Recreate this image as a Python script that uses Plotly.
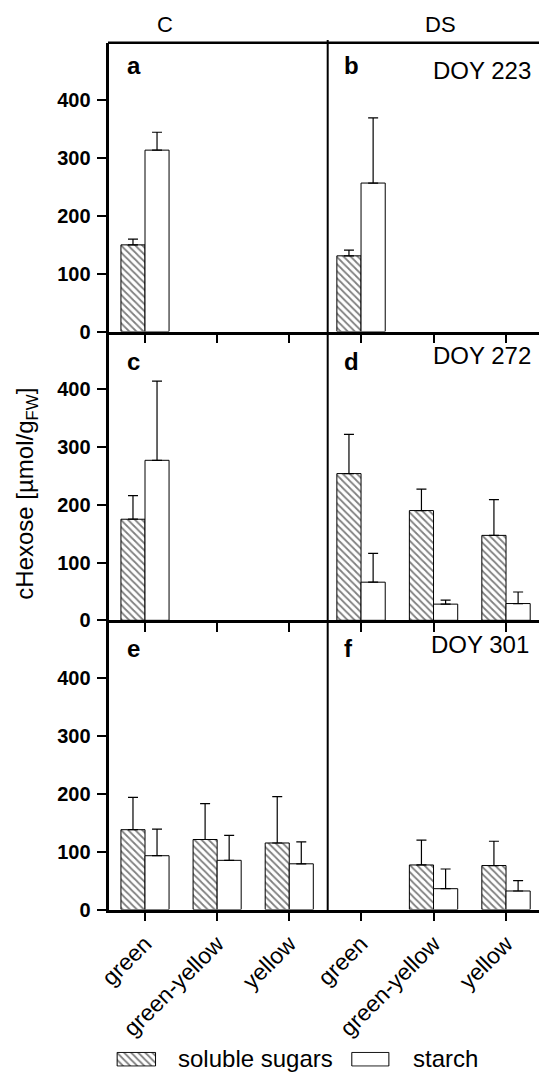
import plotly.graph_objects as go

# ---------------- data ----------------
categories = ["green", "green-yellow", "yellow"]
cat_pos = [0, 1, 2]
yticks = [0, 100, 200, 300, 400]

# panel a (C, DOY 223)
sugar_a = [150, None, None]
sugar_a_err = [10, None, None]
starch_a = [314, None, None]
starch_a_err = [31, None, None]
# panel b (DS, DOY 223)
sugar_b = [131, None, None]
sugar_b_err = [10, None, None]
starch_b = [257, None, None]
starch_b_err = [113, None, None]
# panel c (C, DOY 272)
sugar_c = [175, None, None]
sugar_c_err = [41, None, None]
starch_c = [277, None, None]
starch_c_err = [137, None, None]
# panel d (DS, DOY 272)
sugar_d = [254, 190, 147]
sugar_d_err = [68, 37, 62]
starch_d = [66, 28, 29]
starch_d_err = [50, 7, 20]
# panel e (C, DOY 301)
sugar_e = [138, 121, 115]
sugar_e_err = [56, 62, 80]
starch_e = [93, 85, 79]
starch_e_err = [46, 43, 38]
# panel f (DS, DOY 301)
sugar_f = [None, 77, 76]
sugar_f_err = [None, 43, 42]
starch_f = [None, 36, 32]
starch_f_err = [None, 34, 18]

panel_letters = ["a", "b", "c", "d", "e", "f"]
doy_labels = ["DOY 223", "DOY 272", "DOY 301"]
column_titles = ["C", "DS"]
series_names = ["soluble sugars", "starch"]

# ---------------- layout geometry (pixels) ----------------
W, H = 539, 1073
FONT = "Liberation Sans"


def px_x(p):
    return p / W


def px_y(p):
    return 1 - p / H


col_px = [(109.3, 327.7), (327.7, 539.0)]
row_px = [(42.7, 331.5), (331.5, 620.3), (620.3, 909.5)]
xranges = [[-0.495, 2.533], [-0.46, 2.455]]

panels = [
    (sugar_a, sugar_a_err, starch_a, starch_a_err),
    (sugar_b, sugar_b_err, starch_b, starch_b_err),
    (sugar_c, sugar_c_err, starch_c, starch_c_err),
    (sugar_d, sugar_d_err, starch_d, starch_d_err),
    (sugar_e, sugar_e_err, starch_e, starch_e_err),
    (sugar_f, sugar_f_err, starch_f, starch_f_err),
]

hatch_marker = dict(color="white",
                    pattern=dict(shape="\\", fgcolor="black", bgcolor="white", size=5, solidity=0.35),
                    line=dict(color="black", width=1))
plain_marker = dict(color="white", line=dict(color="black", width=1))


def err(arr):
    return dict(type="data", symmetric=False, array=arr,
                arrayminus=[0 if v is not None else None for v in arr],
                color="black", thickness=1.2, width=5)


fig = go.Figure()
layout = {}
for i, (s, se, st, ste) in enumerate(panels):
    r, c = divmod(i, 2)
    sfx = "" if i == 0 else str(i + 1)
    xa, ya = "x" + sfx, "y" + sfx
    fig.add_trace(go.Bar(x=cat_pos, y=s, error_y=err(se), marker=hatch_marker,
                         xaxis=xa, yaxis=ya, showlegend=False, name=series_names[0]))
    fig.add_trace(go.Bar(x=cat_pos, y=st, error_y=err(ste), marker=plain_marker,
                         xaxis=xa, yaxis=ya, showlegend=False, name=series_names[1]))
    x0, x1 = col_px[c]
    y0, y1 = row_px[r]
    layout["xaxis" + sfx] = dict(
        domain=[px_x(x0), px_x(x1)], anchor=ya, range=xranges[c], automargin=False,
        tickvals=cat_pos, ticktext=categories, showticklabels=(r == 2),
        tickangle=-45, tickfont=dict(family=FONT, size=23, color="black"),
        showline=True, linecolor="black", linewidth=2.5,
        ticks="outside", ticklen=9, tickwidth=2, tickcolor="black",
        showgrid=False, zeroline=False, fixedrange=True)
    layout["yaxis" + sfx] = dict(
        domain=[px_y(y1), px_y(y0)], anchor=xa, range=[0, 500], automargin=False,
        tickvals=yticks, showticklabels=(c == 0),
        tickfont=dict(family=FONT, size=20, color="black", weight="bold"),
        ticklabelstandoff=2,
        showline=(c == 0), linecolor="black", linewidth=2.5,
        ticks="outside" if c == 0 else "", ticklen=10, tickwidth=2, tickcolor="black",
        showgrid=False, zeroline=False, fixedrange=True)

# legend swatches via two tiny hidden axes
sw = [((116.0, 156.7), hatch_marker, "x7", "y7"), ((350.7, 390.0), plain_marker, "x8", "y8")]
for (sx0, sx1), mk, xa, ya in sw:
    fig.add_trace(go.Bar(x=[0], y=[1], width=[1], marker=mk, xaxis=xa, yaxis=ya,
                         showlegend=False, hoverinfo="skip"))
    layout["xaxis" + xa[1:]] = dict(domain=[px_x(sx0), px_x(sx1)], anchor=ya, automargin=False,
                                    range=[-0.53, 0.53], visible=False, fixedrange=True)
    layout["yaxis" + ya[1:]] = dict(domain=[px_y(1066.7), px_y(1051.7)], anchor=xa, automargin=False,
                                    range=[-0.05, 1.05], visible=False, fixedrange=True)

annotations = []
# panel letters
letter_pos = [(124.5, 65.7), (341.5, 65.7), (124.5, 361.7), (341.5, 361.7), (124.5, 648.4), (341.5, 648.4)]
for lt, (lx, ly) in zip(panel_letters, letter_pos):
    annotations.append(dict(text=lt, x=px_x(lx), y=px_y(ly), xref="paper", yref="paper",
                            xanchor="left", yanchor="middle", showarrow=False,
                            font=dict(family=FONT, size=24, color="black", weight="bold")))
# DOY labels
doy_pos = [(533.0, 70.7), (533.0, 356.0), (530.5, 644.4)]
for t, (lx, ly) in zip(doy_labels, doy_pos):
    annotations.append(dict(text=t, x=px_x(lx), y=px_y(ly), xref="paper", yref="paper",
                            xanchor="right", yanchor="middle", showarrow=False,
                            font=dict(family=FONT, size=24, color="black")))
# column titles
for t, lx in zip(column_titles, [164.5, 440.8]):
    annotations.append(dict(text=t, x=px_x(lx), y=px_y(24.7), xref="paper", yref="paper",
                            xanchor="center", yanchor="middle", showarrow=False,
                            font=dict(family=FONT, size=22, color="black")))
# y axis title
annotations.append(dict(text="cHexose [µmol/g<sub>FW</sub>]", x=px_x(27), y=px_y(493.7),
                        xref="paper", yref="paper", xanchor="center", yanchor="middle",
                        textangle=-90, showarrow=False,
                        font=dict(family=FONT, size=24, color="black")))
# legend texts
for t, lx in zip(series_names, [176.0, 410.5]):
    annotations.append(dict(text=t, x=px_x(lx), y=px_y(1058.5), xref="paper", yref="paper",
                            xanchor="left", yanchor="middle", showarrow=False,
                            font=dict(family=FONT, size=24, color="black")))

shapes = [
    # top border
    dict(type="line", xref="paper", yref="paper", x0=px_x(108.0), x1=1.0,
         y0=px_y(42.7), y1=px_y(42.7), line=dict(color="black", width=2.5)),
    # column divider
    dict(type="line", xref="paper", yref="paper", x0=px_x(327.7), x1=px_x(327.7),
         y0=px_y(40.0), y1=px_y(910.0), line=dict(color="black", width=2)),
]

fig.update_layout(
    width=W, height=H, margin=dict(l=0, r=0, t=0, b=0, pad=0),
    paper_bgcolor="white", plot_bgcolor="white",
    barmode="group", bargap=0.333, bargroupgap=0,
    showlegend=False, annotations=annotations, shapes=shapes,
    font=dict(family=FONT, color="black"),
    **layout,
)

fig.write_html("out.html", config={"displayModeBar": False})
